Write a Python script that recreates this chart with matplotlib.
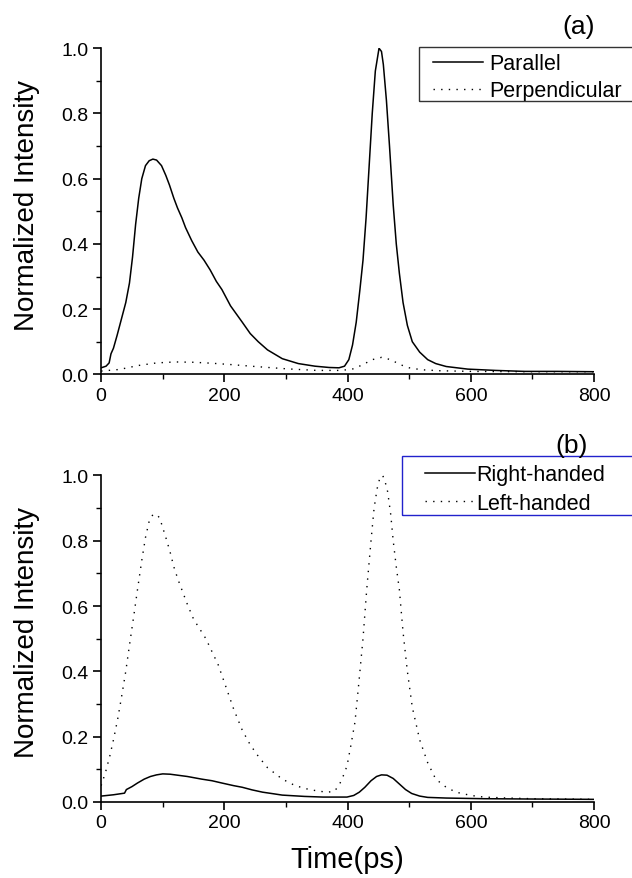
import numpy as np
import matplotlib
matplotlib.use("Agg")
import matplotlib.pyplot as plt
from matplotlib.ticker import MultipleLocator
from matplotlib.patches import Rectangle

plt.rcParams['font.family'] = ['Liberation Sans', 'DejaVu Sans']

# ---- panel (a) ----
t_par = [0, 8, 13, 16, 20, 26, 33, 40, 46, 51, 56, 61, 66, 72, 78, 84, 90, 98, 105, 111,
         118, 124, 131, 137, 147, 157, 167, 177, 187, 196, 210, 229, 242, 255, 270, 294, 320, 347, 370, 386,
         395, 402, 408, 414, 420, 425, 430, 435, 440, 445, 451, 455, 458, 463, 468, 474, 479, 484, 490, 497,
         505, 517, 530, 543, 560, 595, 640, 687, 740, 800]
parallel = [0.02, 0.025, 0.035, 0.063, 0.08, 0.12, 0.17, 0.22, 0.28, 0.36, 0.46, 0.54, 0.60, 0.64, 0.655, 0.66, 0.657, 0.64, 0.61, 0.58,
            0.54, 0.51, 0.48, 0.45, 0.41, 0.375, 0.35, 0.32, 0.285, 0.26, 0.21, 0.16, 0.125, 0.1, 0.075, 0.048, 0.033, 0.025, 0.021, 0.02,
            0.025, 0.045, 0.09, 0.16, 0.26, 0.35, 0.48, 0.64, 0.8, 0.93, 1.0, 0.99, 0.95, 0.84, 0.7, 0.52, 0.4, 0.31, 0.22, 0.15,
            0.1, 0.068, 0.045, 0.033, 0.024, 0.016, 0.012, 0.009, 0.009, 0.008]

t_perp = [0, 30, 60, 90, 120, 150, 180, 210, 250, 300, 350, 390, 410, 425, 440, 455, 470, 485, 500, 520, 550, 600, 700, 800]
perpendicular = [0.01, 0.015, 0.027, 0.035, 0.038, 0.037, 0.034, 0.03, 0.024, 0.017, 0.012, 0.012, 0.017, 0.03, 0.045, 0.052,
                 0.045, 0.03, 0.02, 0.014, 0.011, 0.009, 0.008, 0.008]

# ---- panel (b) ----
t_right = [0, 20, 38, 41, 50, 59, 70, 80, 90, 100, 112, 124, 140, 163, 180, 196, 215, 229, 245, 262,
           280, 294, 330, 360, 399, 410, 419, 428, 438, 447, 455, 464, 474, 484, 494, 504, 517, 530, 560, 621,
           700, 800]
right_handed = [0.018, 0.022, 0.027, 0.038, 0.047, 0.058, 0.07, 0.078, 0.083, 0.086, 0.085, 0.082, 0.078, 0.07, 0.065, 0.058, 0.05, 0.045, 0.037, 0.03,
                0.025, 0.021, 0.017, 0.015, 0.015, 0.02, 0.03, 0.045, 0.065, 0.078, 0.083, 0.082, 0.072, 0.055, 0.038, 0.026, 0.018, 0.014, 0.012, 0.01,
                0.009, 0.008]

t_left = [0, 7, 14, 20, 27, 33, 40, 46, 53, 59, 66, 72, 78, 84, 90, 95, 100, 105, 112, 118,
          125, 131, 140, 150, 160, 170, 180, 190, 203, 215, 229, 242, 255, 270, 294, 315, 334, 350, 366, 378,
          386, 393, 399, 405, 412, 418, 425, 431, 438, 443, 448, 452, 457, 461, 465, 470, 474, 479, 484, 490,
          497, 505, 517, 530, 543, 560, 576, 600, 621, 660, 700, 800]
left_handed = [0.05, 0.09, 0.14, 0.19, 0.255, 0.32, 0.4, 0.48, 0.57, 0.65, 0.74, 0.81, 0.86, 0.88, 0.88, 0.87, 0.84, 0.81, 0.765, 0.72,
               0.68, 0.65, 0.605, 0.56, 0.53, 0.5, 0.46, 0.42, 0.35, 0.285, 0.22, 0.175, 0.14, 0.105, 0.07, 0.05, 0.04, 0.034, 0.03, 0.032,
               0.05, 0.08, 0.11, 0.17, 0.245, 0.36, 0.5, 0.65, 0.8, 0.9, 0.96, 0.99, 1.0, 0.98, 0.95, 0.88, 0.8, 0.72, 0.65, 0.52,
               0.4, 0.29, 0.19, 0.12, 0.07, 0.045, 0.03, 0.02, 0.015, 0.012, 0.01, 0.008]

dots = (0, (1, 4.5))
W, H = 632, 879

fig = plt.figure(figsize=(6.32, 8.79), dpi=100)
axA = fig.add_axes([0.160, 0.573, 0.780, 0.371])
axB = fig.add_axes([0.160, 0.0865, 0.780, 0.3715])


def style(ax):
    ax.set_xlim(0, 800)
    ax.set_ylim(0, 1.0)
    ax.spines['top'].set_visible(False)
    ax.spines['right'].set_visible(False)
    ax.spines['left'].set_linewidth(1.2)
    ax.spines['bottom'].set_linewidth(1.2)
    ax.xaxis.set_major_locator(MultipleLocator(200))
    ax.xaxis.set_minor_locator(MultipleLocator(100))
    ax.yaxis.set_major_locator(MultipleLocator(0.2))
    ax.yaxis.set_minor_locator(MultipleLocator(0.1))
    ax.yaxis.set_major_formatter(plt.FormatStrFormatter('%.1f'))
    ax.tick_params(which='major', direction='out', length=6, width=1.2, labelsize=14, pad=3)
    ax.tick_params(which='minor', direction='out', length=3.5, width=1.0)
    ax.set_ylabel('Normalized Intensity', fontsize=20)
    ax.yaxis.set_label_coords(-0.124, 0.521)


def box(x0, y0, y1, color):
    # legend frame, runs off the right edge like the original
    fig.patches.append(Rectangle((x0 / W, 1 - y1 / H), 0.6, (y1 - y0) / H, transform=fig.transFigure,
                                 fill=False, edgecolor=color, linewidth=1.0))


axA.plot(t_par, parallel, color='black', lw=1.1, label='Parallel')
axA.plot(t_perp, perpendicular, color='black', lw=1.0, linestyle=dots, label='Perpendicular')
style(axA)
axA.legend(loc='upper left', bbox_to_anchor=(0.680, 0.942), bbox_transform=fig.transFigure,
           fontsize=15.5, frameon=False, handlelength=2.3, handletextpad=0.33,
           borderpad=0.15, labelspacing=0.29, borderaxespad=0)
box(419, 48, 102, '#333333')
fig.text(0.915, 0.969, '(a)', fontsize=19, ha='center', va='center')

axB.plot(t_right, right_handed, color='black', lw=1.1, label='Right-handed')
axB.plot(t_left, left_handed, color='black', lw=1.0, linestyle=dots, label='Left-handed')
style(axB)
axB.legend(loc='upper left', bbox_to_anchor=(0.663, 0.478), bbox_transform=fig.transFigure,
           fontsize=15.5, frameon=False, handlelength=2.3, handletextpad=0.05,
           borderpad=0.3, labelspacing=0.34, borderaxespad=0)
box(402, 457, 516, '#2222cc')
fig.text(0.905, 0.493, '(b)', fontsize=19, ha='center', va='center')
axB.set_xlabel('Time(ps)', fontsize=21, labelpad=10)

fig.savefig('out.png', dpi=100)
